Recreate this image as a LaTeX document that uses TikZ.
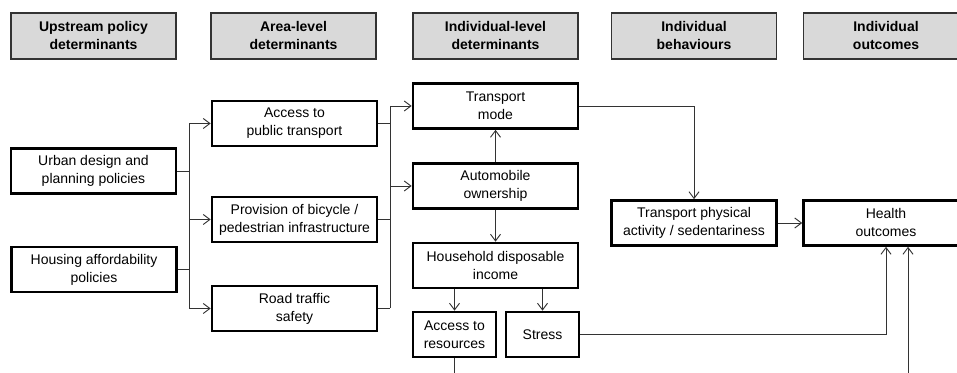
\documentclass[tikz,border=0pt]{standalone}
\usepackage{fontspec}
\setmainfont{Liberation Sans}
\usetikzlibrary{arrows.meta}

\begin{document}
\begin{tikzpicture}[x=0.75pt,y=-0.75pt,
	header/.style={draw=black!80,line width=0.8pt,fill=black!15,minimum width=165*0.75pt,minimum height=46*0.75pt,inner sep=0pt,align=center,font=\fontsize{10.5}{13.5}\selectfont\bfseries},
	factor/.style={draw,line width=2pt,fill=white,minimum width=165*0.75pt,minimum height=45*0.75pt,inner sep=0pt,align=center,font=\fontsize{10.5}{13.5}\selectfont},
	link/.style={draw=black!80,line width=0.7pt},
	>={Straight Barb[length=5pt,width=7.5pt]}]
					\useasboundingbox (0,0) rectangle (957,373);
					\clip (0,0) rectangle (957,373);
					\node [header] (h1) at (93.5,36) {Upstream policy\\determinants};
					\node [header] (h2) at (293.5,36) {Area-level\\determinants};
					\node [header] (h3) at (495.5,36) {Individual-level\\determinants};
					\node [header] (h4) at (694,36) {Individual\\behaviours};
					\node [header] (h5) at (886,36) {Individual\\outcomes};
					\node [factor] (urban) at (93.5,171) {Urban design and\\planning policies};
					\node [factor] (housing) at (94,269.5) {Housing affordability\\policies};
					\node [factor] (access) at (294.5,123.5) {Access to\\public transport};
					\node [factor] (provision) at (294.5,219.5) {Provision of bicycle /\\pedestrian infrastructure};
					\node [factor] (road) at (294.5,308.5) {Road traffic\\safety};
					\node [factor] (mode) at (495.5,106) {Transport\\mode};
					\node [factor] (auto) at (495.5,186) {Automobile\\ownership};
					\node [factor] (income) at (495.5,265.5) {Household disposable\\income};
					\node [factor,minimum width=83*0.75pt] (resources) at (454.5,334.5) {Access to\\resources};
					\node [factor,minimum width=73*0.75pt] (stress) at (542.5,334.5) {Stress};
					\node [factor] (activity) at (694,223) {Transport physical\\activity / sedentariness};
					\node [factor] (health) at (886,223) {Health\\outcomes};
					\coordinate (busL) at (189,0);
					\coordinate (busR) at (390,0);
					\coordinate (resEnd) at (454.5,380);
					\coordinate (healthEnd) at (908,380);
					\draw [link] (busL |- access.west) -- (busL |- road.west);
					\draw [link] (busR |- mode.west) -- (busR |- road.east);
					\draw [link] (urban.east) -- (busL |- urban.east);
					\draw [link] (housing.east) -- (busL |- housing.east);
					\draw [link,->] (busL |- access.west) -- (access.west);
					\draw [link,->] (busL |- provision.west) -- (provision.west);
					\draw [link,->] (busL |- road.west) -- (road.west);
					\draw [link] (access.east) -- (busR |- access.east);
					\draw [link] (provision.east) -- (busR |- provision.east);
					\draw [link] (road.east) -- (busR |- road.east);
					\draw [link,->] (busR |- mode.west) -- (mode.west);
					\draw [link,->] (busR |- auto.west) -- (auto.west);
					\draw [link,->] (auto.north) -- (mode.south);
					\draw [link,->] (auto.south) -- (income.north);
					\draw [link,->] (income.south -| resources.north) -- (resources.north);
					\draw [link,->] (income.south -| stress.north) -- (stress.north);
					\draw [link] (resources.south) -- (resEnd);
					\draw [link,->] (mode.east) -| (activity.north);
					\draw [link,->] (activity.east) -- (health.west);
					\draw [link,->] (stress.east) -| (health.south);
					\draw [link,->] (healthEnd) -- (healthEnd |- health.south);
				\end{tikzpicture}
\end{document}
